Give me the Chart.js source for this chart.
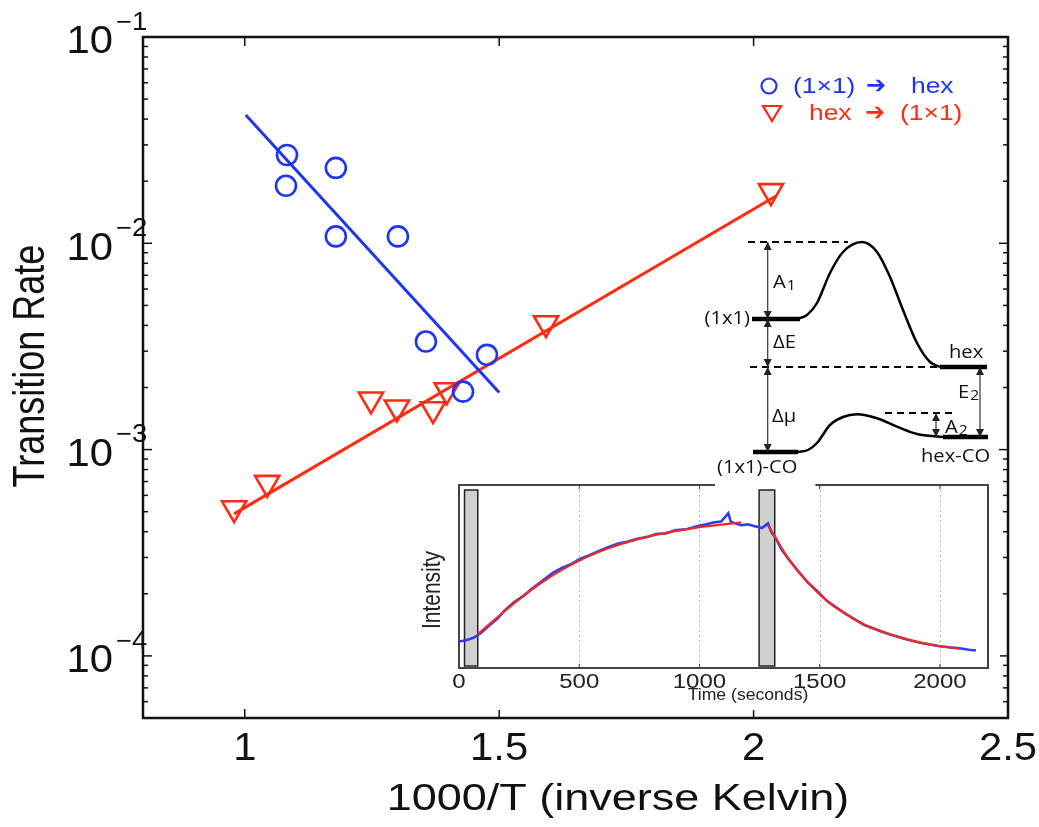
<!DOCTYPE html>
<html><head><meta charset="utf-8">
<script src="https://cdn.jsdelivr.net/npm/chart.js@4/dist/chart.umd.min.js"></script>
<style>
body{margin:0;background:#fff;}
#wrap{position:relative;width:1039px;height:827px;overflow:hidden;}
canvas{position:absolute;}
</style></head><body>
<div id="wrap">
<canvas id="main" width="1039" height="827" style="left:0;top:0"></canvas>
<canvas id="inset" width="580" height="235" style="left:420px;top:475px"></canvas>
<canvas id="energy" width="300" height="262" style="left:700px;top:230px"></canvas>
</div>
<script>
// ---------------- main chart data ----------------
const blueX = [1.083, 1.081, 1.179, 1.179, 1.301, 1.356, 1.476, 1.429];
const blueY = [0.0268, 0.0190, 0.0232, 0.0108, 0.0108, 0.00334, 0.00288, 0.00191];
const redX = [0.979, 1.044, 1.248, 1.299, 1.370, 1.397, 1.592, 2.034];
const redY = [0.00052, 0.00069, 0.00175, 0.00160, 0.00157, 0.00194, 0.0041, 0.0179];
const blueFitX = [1.002, 1.500];
const blueFitY = [0.0419, 0.00189];
const redFitX = [0.979, 2.044];
const redFitY = [0.000488, 0.01694];
const xTicks = [1, 1.5, 2, 2.5];
const xTickLabels = ['1', '1.5', '2', '2.5'];
const yTickExps = [-1, -2, -3, -4];
const legendLabels = ['(1\u00D71)', 'hex', 'hex', '(1\u00D71)'];

// ---------------- inset data ----------------
const blueT = [0,30,60,90,120,160,189,230,268,300,347,390,426,470,505,540,583,620,662,700,741,780,820,860,899,950,1001,1030,1057,1090,1110,1120,1130,1150,1175,1200,1230,1260,1285,1300,1317,1340,1372,1410,1451,1490,1530,1570,1609,1650,1687,1730,1766,1800,1845,1880,1924,1960,2000,2040,2082,2120,2150];
const blueI = [0.145,0.152,0.165,0.19,0.225,0.27,0.313,0.36,0.394,0.43,0.476,0.52,0.545,0.57,0.598,0.615,0.64,0.66,0.68,0.69,0.706,0.715,0.732,0.735,0.752,0.76,0.778,0.785,0.795,0.80,0.83,0.846,0.80,0.79,0.78,0.785,0.775,0.765,0.79,0.74,0.711,0.65,0.593,0.53,0.467,0.42,0.367,0.33,0.295,0.263,0.235,0.213,0.195,0.18,0.163,0.15,0.137,0.128,0.119,0.113,0.108,0.1,0.096];
const fit1T = [79,189,268,347,426,505,583,662,741,820,899,1001,1100,1175];
const fit1I = [0.186,0.31,0.394,0.47,0.535,0.59,0.635,0.672,0.703,0.728,0.748,0.77,0.785,0.795];
const fit2T = [1285,1317,1372,1451,1530,1609,1687,1766,1845,1924,2000,2082];
const fit2I = [0.78,0.71,0.593,0.467,0.367,0.295,0.235,0.195,0.163,0.137,0.119,0.105];
const barStart = [23, 1248];
const barEnd = [78, 1313];
const insetTicks = [0, 500, 1000, 1500, 2000];

// ---------------- energy diagram data (schematic units) ----------------
const upperX = [97,107,117,130,143,162,177,190,203,217,230,240];
const upperY = [161,165,177,207,228,238,228,203,170,137,118,113];
const lowerX = [98,108,117,130,143,157,177,197,217,243];
const lowerY = [28,30,37,55,63,65.7,61.7,53.3,46,43];
const levelX0 = [52, 240, 53, 243];
const levelX1 = [100, 287, 98, 288];
const levelY = [161, 113, 28, 43];
const dashX0 = [48, 50, 185];
const dashX1 = [148, 240, 253];
const dashY = [238, 113, 67];
const arrowX = [67.7, 67.7, 67.7, 236, 280];
const arrowY0 = [238, 161, 113, 67, 113];
const arrowY1 = [161, 113, 28, 43, 43];
const labelText = ['A', '(1x1)', '\u0394E', 'hex', 'E', '\u0394\u03BC', 'A', 'hex-CO', '(1x1)-CO'];
const labelSub = ['1', '', '', '', '2', '', '2', '', ''];
const labelX = [73, 50, 73, 249, 258, 72, 245, 221, 17];
const labelY = [197, 161, 137, 127, 87, 63, 52, 23, 12];
const labelAlign = ['left', 'right', 'left', 'left', 'left', 'left', 'left', 'left', 'left'];

const BLUE = '#1f35f2', RED = '#ff2b12';
const SANS = '"Liberation Sans", Arial, "DejaVu Sans", sans-serif';

function pts(xs, ys) { return xs.map((v, i) => ({ x: v, y: ys[i] })); }
function sText(ctx, text, x, y, align, sx, font) {
  ctx.save(); ctx.font = font; ctx.translate(x, y); ctx.scale(sx, 1);
  ctx.textAlign = align; ctx.textBaseline = 'middle'; ctx.fillText(text, 0, 0); ctx.restore();
}
function seg(ctx, x0, y0, x1, y1) { ctx.beginPath(); ctx.moveTo(x0, y0); ctx.lineTo(x1, y1); ctx.stroke(); }

// ---------------- main chart ----------------
const mainDecor = {
  id: 'mainDecor',
  afterDraw(chart) {
    const { ctx, chartArea: a, scales: { x, y } } = chart;
    ctx.save();
    ctx.strokeStyle = '#111';
    ctx.lineWidth = 1.5;
    for (let e = -5; e <= -1; e++) {
      for (let m = 1; m <= 9; m++) {
        const v = m * Math.pow(10, e);
        if (v < y.min * 0.999 || v > y.max * 1.001) continue;
        const py = y.getPixelForValue(v);
        const len = m === 1 ? 9 : 5;
        seg(ctx, a.left, py, a.left + len, py);
        seg(ctx, a.right, py, a.right - len, py);
      }
    }
    xTicks.forEach(v => {
      const px = x.getPixelForValue(v);
      seg(ctx, px, a.bottom, px, a.bottom - 9);
      seg(ctx, px, a.top, px, a.top + 9);
    });
    ctx.lineWidth = 2.5;
    ctx.strokeRect(a.left, a.top, a.right - a.left, a.bottom - a.top);

    ctx.fillStyle = '#111';
    xTicks.forEach((v, i) => sText(ctx, xTickLabels[i], x.getPixelForValue(v), 750, 'center', 1.1, '38px ' + SANS));
    yTickExps.forEach(e => {
      const py = y.getPixelForValue(Math.pow(10, e));
      sText(ctx, '10', 113, py + 6, 'right', 1.1, '38px ' + SANS);
      sText(ctx, '\u2212' + Math.abs(e), 116, py - 14, 'left', 1.1, '25px ' + SANS);
    });
    sText(ctx, '1000/T (inverse Kelvin)', 618, 800, 'center', 1.25, '36px ' + SANS);
    ctx.save();
    ctx.translate(32, 366); ctx.rotate(-Math.PI / 2); ctx.scale(1, 1.25);
    ctx.font = '36px ' + SANS; ctx.textAlign = 'center'; ctx.textBaseline = 'middle';
    ctx.fillText('Transition Rate', 0, 0);
    ctx.restore();

    // legend
    const lf = '22px ' + SANS;
    const af = 'bold 24px "DejaVu Sans"';
    ctx.strokeStyle = BLUE; ctx.lineWidth = 2.2;
    ctx.beginPath(); ctx.arc(769, 86, 7.5, 0, Math.PI * 2); ctx.stroke();
    ctx.fillStyle = BLUE;
    sText(ctx, legendLabels[0], 793, 87, 'left', 1.2, lf);
    sText(ctx, '\u2794', 866, 87, 'left', 1.0, af);
    sText(ctx, legendLabels[1], 911, 87, 'left', 1.2, lf);
    ctx.strokeStyle = RED; ctx.fillStyle = RED;
    ctx.beginPath(); ctx.moveTo(763, 106); ctx.lineTo(781, 106); ctx.lineTo(772, 121); ctx.closePath(); ctx.stroke();
    sText(ctx, legendLabels[2], 809, 114, 'left', 1.2, lf);
    sText(ctx, '\u2794', 865, 114, 'left', 1.0, af);
    sText(ctx, legendLabels[3], 900, 114, 'left', 1.2, lf);
    ctx.restore();
  }
};

new Chart(document.getElementById('main'), {
  type: 'scatter',
  data: {
    datasets: [
      { data: pts(blueX, blueY), pointStyle: 'circle', pointRadius: 10, borderWidth: 2.6, borderColor: BLUE, backgroundColor: 'rgba(0,0,0,0)' },
      { data: pts(redX, redY), pointStyle: 'triangle', pointRotation: 180, pointRadius: 14, borderWidth: 2.6, borderColor: RED, backgroundColor: 'rgba(0,0,0,0)' },
      { data: pts(blueFitX, blueFitY), showLine: true, pointRadius: 0, borderWidth: 3, borderColor: BLUE },
      { data: pts(redFitX, redFitY), showLine: true, pointRadius: 0, borderWidth: 3, borderColor: RED }
    ]
  },
  options: {
    responsive: false, animation: false, devicePixelRatio: 1,
    layout: { padding: { left: 143, right: 31, top: 37, bottom: 109 } },
    plugins: { legend: { display: false }, tooltip: { enabled: false } },
    scales: {
      x: { type: 'linear', display: false, min: 0.8, max: 2.5 },
      y: { type: 'logarithmic', display: false, min: 5e-5, max: 0.1 }
    }
  },
  plugins: [mainDecor]
});

// ---------------- inset chart ----------------
const insetDecor = {
  id: 'insetDecor',
  beforeDraw(chart) {
    const ctx = chart.ctx;
    ctx.save(); ctx.fillStyle = '#fff'; ctx.fillRect(0, 0, chart.width, chart.height); ctx.restore();
  },
  beforeDatasetsDraw(chart) {
    const { ctx, chartArea: a, scales: { x } } = chart;
    ctx.save();
    ctx.strokeStyle = '#b8b8b8'; ctx.lineWidth = 1; ctx.setLineDash([2, 3]);
    insetTicks.forEach(t => { if (t > 0) { const px = Math.round(x.getPixelForValue(t)) + 0.5; seg(ctx, px, a.top, px, a.bottom); } });
    ctx.setLineDash([]);
    barStart.forEach((s, i) => {
      const x0 = x.getPixelForValue(s), x1 = x.getPixelForValue(barEnd[i]);
      ctx.fillStyle = '#d0d0d0'; ctx.fillRect(x0, a.top + 5, x1 - x0, a.bottom - a.top - 7);
      ctx.strokeStyle = '#222'; ctx.lineWidth = 1.5; ctx.strokeRect(x0, a.top + 5, x1 - x0, a.bottom - a.top - 7);
    });
    ctx.restore();
  },
  afterDraw(chart) {
    const { ctx, chartArea: a, scales: { x } } = chart;
    ctx.save();
    ctx.strokeStyle = '#444'; ctx.lineWidth = 2;
    ctx.strokeRect(a.left, a.top, a.right - a.left, a.bottom - a.top);
    ctx.lineWidth = 1;
    insetTicks.forEach(t => {
      const px = x.getPixelForValue(t);
      seg(ctx, px, a.bottom, px, a.bottom - 4); seg(ctx, px, a.top, px, a.top + 4);
    });
    ctx.fillStyle = '#222';
    insetTicks.forEach(t => sText(ctx, String(t), x.getPixelForValue(t), 207, 'center', 1.2, '20px ' + SANS));
    sText(ctx, 'Time (seconds)', 328, 221, 'center', 1.1, '16px ' + SANS);
    ctx.save();
    ctx.translate(13, 115); ctx.rotate(-Math.PI / 2); ctx.scale(1, 1.2);
    ctx.font = '21px ' + SANS; ctx.textAlign = 'center'; ctx.textBaseline = 'middle';
    ctx.fillText('Intensity', 0, 0);
    ctx.restore();
    ctx.restore();
  }
};

new Chart(document.getElementById('inset'), {
  type: 'scatter',
  data: {
    datasets: [
      { data: pts(fit1T, fit1I), showLine: true, pointRadius: 0, borderWidth: 2.2, borderColor: '#f02a1e', tension: 0.3 },
      { data: pts(fit2T, fit2I), showLine: true, pointRadius: 0, borderWidth: 2.2, borderColor: '#f02a1e', tension: 0.3 },
      { data: pts(blueT, blueI), showLine: true, pointRadius: 0, borderWidth: 2.6, borderColor: '#2b3df5', tension: 0 }
    ]
  },
  options: {
    responsive: false, animation: false, devicePixelRatio: 1,
    layout: { padding: { left: 39, right: 12, top: 10, bottom: 42 } },
    plugins: { legend: { display: false }, tooltip: { enabled: false } },
    scales: {
      x: { type: 'linear', display: false, min: 0, max: 2200 },
      y: { type: 'linear', display: false, min: 0, max: 1 }
    }
  },
  plugins: [insetDecor]
});

// ---------------- energy diagram ----------------
const energyDecor = {
  id: 'energyDecor',
  afterDatasetsDraw(chart) {
    const { ctx, scales: { x, y } } = chart;
    ctx.save();
    ctx.strokeStyle = '#333'; ctx.fillStyle = '#222'; ctx.lineWidth = 1.2;
    arrowX.forEach((ax, i) => {
      const px = x.getPixelForValue(ax), p0 = y.getPixelForValue(arrowY0[i]), p1 = y.getPixelForValue(arrowY1[i]);
      seg(ctx, px, p0, px, p1);
      const d = p1 > p0 ? 1 : -1;
      [[p0, -d], [p1, d]].forEach(([tip, dir]) => {
        ctx.beginPath(); ctx.moveTo(px, tip); ctx.lineTo(px - 4, tip - dir * 8); ctx.lineTo(px + 4, tip - dir * 8); ctx.closePath(); ctx.fill();
      });
    });
    const ef = '18px "Open Sans", ' + SANS;
    labelText.forEach((t, i) => {
      const px = x.getPixelForValue(labelX[i]), py = y.getPixelForValue(labelY[i]);
      ctx.font = ef;
      const w = ctx.measureText(t).width * 1.12;
      if (t === '(1x1)-CO') {
        ctx.fillStyle = '#fff';
        ctx.fillRect(px - 2, py - 10, w + 20, 30);
      }
      ctx.fillStyle = '#111';
      sText(ctx, t, px, py, labelAlign[i], 1.12, ef);
      if (labelSub[i]) sText(ctx, labelSub[i], px + w + 1, py + 3, 'left', 1.12, '14px "Open Sans", ' + SANS);
    });
    ctx.restore();
  }
};

const eData = [];
eData.push({ data: pts(upperX, upperY), showLine: true, pointRadius: 0, borderWidth: 2.5, borderColor: '#000', cubicInterpolationMode: 'monotone' });
eData.push({ data: pts(lowerX, lowerY), showLine: true, pointRadius: 0, borderWidth: 2.5, borderColor: '#000', cubicInterpolationMode: 'monotone' });
levelY.forEach((v, i) => eData.push({ data: pts([levelX0[i], levelX1[i]], [v, v]), showLine: true, pointRadius: 0, borderWidth: 4.5, borderColor: '#000' }));
dashY.forEach((v, i) => eData.push({ data: pts([dashX0[i], dashX1[i]], [v, v]), showLine: true, pointRadius: 0, borderWidth: 1.8, borderColor: '#000', borderDash: [7, 5] }));

new Chart(document.getElementById('energy'), {
  type: 'scatter',
  data: { datasets: eData },
  options: {
    responsive: false, animation: false, devicePixelRatio: 1,
    layout: { padding: 0 },
    plugins: { legend: { display: false }, tooltip: { enabled: false } },
    scales: {
      x: { type: 'linear', display: false, min: 0, max: 300 },
      y: { type: 'linear', display: false, min: -12, max: 250 }
    }
  },
  plugins: [energyDecor]
});
</script>
</body></html>
